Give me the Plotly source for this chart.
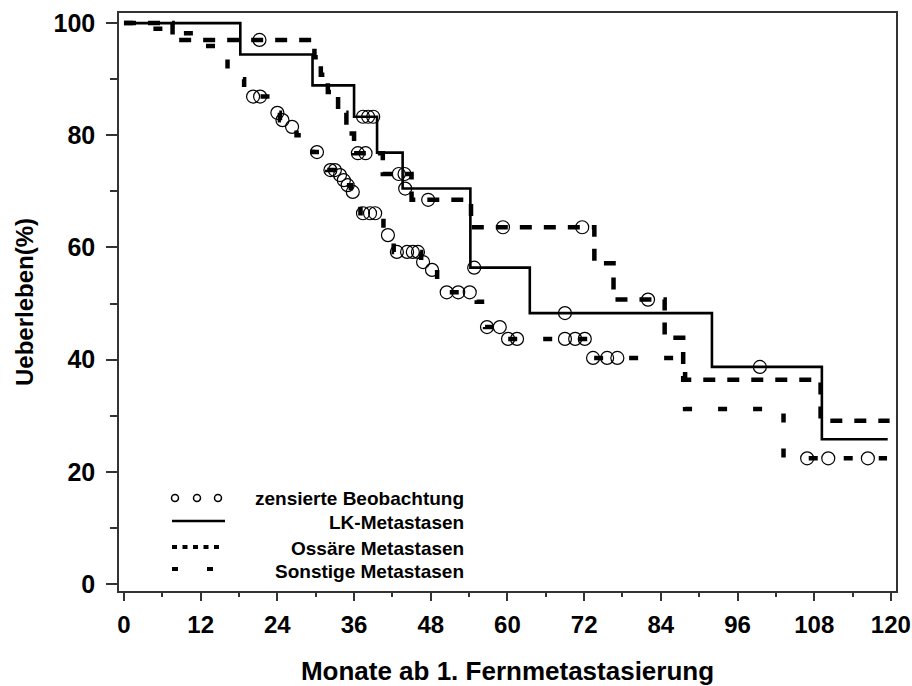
import plotly.graph_objects as go

# ---------------- data ----------------
# LK-Metastasen (solid)
lk_time = [0, 18.2, 29.5, 36.0, 39.6, 43.6, 54.2, 63.5, 92.0, 109.2, 119.5]
lk_surv = [100, 94.4, 88.9, 83.3, 76.9, 70.5, 56.4, 48.3, 38.7, 25.8, 25.8]
lk_cens = [37.4, 38.2, 39.0, 44.0, 54.8, 69.0, 99.5]

# Ossäre Metastasen (dense dashes)
oss_time = [0, 7.6, 29.8, 30.8, 31.9, 33.5, 34.8, 36.0, 40.5, 45.0, 54.3,
            73.6, 76.6, 84.6, 87.5, 109.0, 119.8]
oss_surv = [100, 97.0, 93.9, 90.8, 87.7, 84.0, 80.3, 76.8, 73.1, 68.5, 63.6,
            57.2, 50.7, 43.9, 36.4, 29.1, 29.1]
oss_cens = [21.2, 36.6, 37.8, 43.0, 43.9, 47.6, 59.3, 71.7, 82.0]

# Sonstige Metastasen (sparse dashes)
son_time = [0, 3.5, 7.6, 11.0, 14.5, 16.2, 18.8, 23.5, 24.4, 25.6, 27.0, 29.5,
            31.8, 33.4, 34.1, 34.7, 35.5, 36.2, 37.0, 40.6, 42.2, 46.5, 47.6,
            49.0, 50.2, 55.2, 56.5, 59.5, 72.8, 87.8, 103.2, 119.4]
son_surv = [100, 99.0, 98.2, 95.9, 94.0, 90.0, 86.9, 84.0, 82.7, 81.5, 80.0, 77.0,
            73.8, 72.9, 72.0, 71.1, 69.9, 67.6, 66.1, 62.2, 59.2, 57.4, 56.0,
            53.8, 52.0, 50.3, 45.8, 43.7, 40.3, 31.2, 22.4, 22.4]
son_cens = [20.2, 21.3, 24.0, 24.8, 26.3, 30.2, 32.3, 33.0, 33.8, 34.4, 35.0,
            35.8, 37.4, 38.5, 39.3, 41.3, 42.7, 44.3, 45.2, 46.0, 46.8, 48.2,
            50.5, 52.3, 54.1, 56.8, 58.8, 60.1, 61.5, 69.0, 70.6, 72.1, 73.4,
            75.6, 77.2, 106.9, 110.2, 116.4]

x_ticks = [0, 12, 24, 36, 48, 60, 72, 84, 96, 108, 120]
y_ticks = [0, 20, 40, 60, 80, 100]

legend_labels = ["zensierte Beobachtung", "LK-Metastasen",
                 "Ossäre Metastasen", "Sonstige Metastasen"]


def surv_at(times, surv, t):
    val = surv[0]
    for ti, si in zip(times, surv):
        if ti <= t:
            val = si
    return val


FONT = "Liberation Sans, Arial, sans-serif"
BLACK = "#000000"
FRAME = "#333333"

fig = go.Figure()

curves = [
    (lk_time, lk_surv, lk_cens, dict(color=BLACK, width=2.6, dash="solid")),
    (oss_time, oss_surv, oss_cens, dict(color=BLACK, width=4.5, dash="12px,12px")),
    (son_time, son_surv, son_cens, dict(color=BLACK, width=4.5, dash="9px,26px")),
]

for t, s, c, ln in curves:
    fig.add_trace(go.Scatter(x=t, y=s, mode="lines", line=ln, line_shape="hv",
                             showlegend=False, hoverinfo="skip"))
for t, s, c, ln in curves:
    fig.add_trace(go.Scatter(
        x=c, y=[surv_at(t, s, ci) for ci in c], mode="markers",
        marker=dict(symbol="circle-open", size=13, color=BLACK,
                    line=dict(width=1.2, color=BLACK)),
        showlegend=False, hoverinfo="skip"))

# ---------------- layout geometry (page pixels) ----------------
W, H = 912, 686
FRAME_L, FRAME_R, FRAME_T, FRAME_B = 119, 896, 13, 591
L, T = FRAME_L, FRAME_T
R, B = W - FRAME_R, H - FRAME_B
PW, PH = W - L - R, H - T - B


def px(xp):
    return (xp - FRAME_L) / PW


def py(yp):
    return (FRAME_B - yp) / PH


shapes = []
# legend: censored markers
for cx in (175, 197, 218):
    r = 3.5
    shapes.append(dict(type="circle", xref="paper", yref="paper",
                       x0=px(cx - r), x1=px(cx + r), y0=py(498 + r), y1=py(498 - r),
                       line=dict(color=BLACK, width=1.5)))
# legend: line samples
shapes.append(dict(type="line", xref="paper", yref="paper",
                   x0=px(172), x1=px(225), y0=py(521), y1=py(521),
                   line=dict(color=BLACK, width=2.6)))
shapes.append(dict(type="line", xref="paper", yref="paper",
                   x0=px(172), x1=px(221), y0=py(547), y1=py(547),
                   line=dict(color=BLACK, width=4, dash="5px,5.5px")))
shapes.append(dict(type="line", xref="paper", yref="paper",
                   x0=px(172), x1=px(213), y0=py(569), y1=py(569),
                   line=dict(color=BLACK, width=4, dash="6px,29px")))

annotations = []
for lab, yy in zip(legend_labels, (498, 522, 548, 571)):
    annotations.append(dict(text=lab, xref="paper", yref="paper",
                            x=px(466), y=py(yy), xanchor="right", yanchor="middle",
                            showarrow=False,
                            font=dict(family=FONT, size=19, color=BLACK, weight="bold")))

fig.update_layout(
    width=W, height=H,
    margin=dict(l=L, r=R, t=T, b=B, pad=0, autoexpand=False),
    paper_bgcolor="white", plot_bgcolor="white",
    shapes=shapes, annotations=annotations,
    showlegend=False,
    xaxis=dict(
        range=[-0.78, 120.8], tickvals=x_ticks, ticktext=[str(v) for v in x_ticks],
        automargin=False,
        showgrid=False, zeroline=False,
        showline=True, mirror=True, linecolor=FRAME, linewidth=1.5,
        ticks="outside", ticklen=8, tickwidth=1.5, tickcolor=FRAME,
        minor=dict(dtick=6, tick0=0, ticks="outside", ticklen=4,
                   tickwidth=1.5, tickcolor=FRAME),
        tickfont=dict(family=FONT, size=24, color=BLACK, weight="bold"),
        ticklabelstandoff=3,
        title=dict(text="Monate ab 1. Fernmetastasierung", standoff=26,
                   font=dict(family=FONT, size=26, color=BLACK, weight="bold")),
    ),
    yaxis=dict(
        range=[-1.25, 101.8], tickvals=y_ticks, ticktext=[str(v) for v in y_ticks],
        automargin=False,
        showgrid=False, zeroline=False,
        showline=True, mirror=True, linecolor=FRAME, linewidth=1.5,
        ticks="outside", ticklen=11, tickwidth=1.5, tickcolor=FRAME,
        minor=dict(dtick=10, tick0=0, ticks="outside", ticklen=7,
                   tickwidth=1.5, tickcolor=FRAME),
        tickfont=dict(family=FONT, size=25, color=BLACK, weight="bold"),
        ticklabelstandoff=6,
        title=dict(text="Ueberleben(%)", standoff=13,
                   font=dict(family=FONT, size=24, color=BLACK, weight="bold")),
    ),
)

# remove the default 8px page margin so the 912x686 figure fills the window
fig.write_html("out.html",
               config={"displayModeBar": False},
               post_script="document.body.style.margin='0';"
                           "document.body.style.overflow='hidden';")
